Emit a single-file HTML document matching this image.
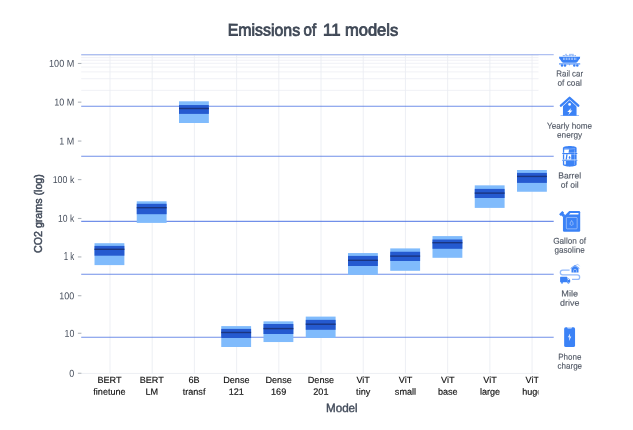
<!DOCTYPE html>
<html lang="en"><head><meta charset="utf-8"><title>Emissions of 11 models</title>
<style>
html,body{margin:0;padding:0;background:#fff;}
body{width:633px;height:430px;overflow:hidden;position:relative;font-family:"Liberation Sans", sans-serif;}
svg{position:absolute;left:0;top:0;display:block;}
text{font-family:"Liberation Sans", sans-serif;}
.yl{font-size:10px;fill:#454d5b;text-anchor:end;}
.xl{font-size:9.1px;fill:#111;stroke:#111;stroke-width:0.15px;text-anchor:middle;}
.il{font-size:8.6px;fill:#4f5663;stroke:#4f5663;stroke-width:0.12px;text-anchor:middle;}
.at{font-size:11.9px;fill:#434c5b;stroke:#434c5b;stroke-width:0.4px;text-anchor:middle;}
</style></head><body>
<svg width="633" height="430" viewBox="0 0 633 430">

<defs><clipPath id="gc"><rect x="0" y="0" width="538.5" height="430"/></clipPath></defs>
<g clip-path="url(#gc)">
<line x1="81.2" x2="543.5" y1="90.35" y2="90.35" stroke="#eaecf2" stroke-width="0.85" stroke-opacity="0.85"/>
<line x1="81.2" x2="543.5" y1="78.70" y2="78.70" stroke="#eaecf2" stroke-width="0.85" stroke-opacity="0.85"/>
<line x1="81.2" x2="543.5" y1="71.89" y2="71.89" stroke="#eaecf2" stroke-width="0.85" stroke-opacity="0.85"/>
<line x1="81.2" x2="543.5" y1="67.05" y2="67.05" stroke="#eaecf2" stroke-width="0.85" stroke-opacity="0.85"/>
<line x1="81.2" x2="543.5" y1="63.30" y2="63.30" stroke="#eaecf2" stroke-width="0.85" stroke-opacity="0.85"/>
<line x1="81.2" x2="543.5" y1="60.24" y2="60.24" stroke="#eaecf2" stroke-width="0.85" stroke-opacity="0.85"/>
<line x1="81.2" x2="543.5" y1="57.64" y2="57.64" stroke="#eaecf2" stroke-width="0.85" stroke-opacity="0.85"/>
<line x1="81.2" x2="543.5" y1="55.40" y2="55.40" stroke="#eaecf2" stroke-width="0.85" stroke-opacity="0.85"/>
<line x1="81.2" x2="543.5" y1="373.45" y2="373.45" stroke="#eaecf2" stroke-width="0.85"/>
<line x1="110.00" x2="110.00" y1="54.6" y2="373.6" stroke="#eaecf2" stroke-width="0.85"/>
<line x1="152.21" x2="152.21" y1="54.6" y2="373.6" stroke="#eaecf2" stroke-width="0.85"/>
<line x1="194.42" x2="194.42" y1="54.6" y2="373.6" stroke="#eaecf2" stroke-width="0.85"/>
<line x1="236.62" x2="236.62" y1="54.6" y2="373.6" stroke="#eaecf2" stroke-width="0.85"/>
<line x1="278.83" x2="278.83" y1="54.6" y2="373.6" stroke="#eaecf2" stroke-width="0.85"/>
<line x1="321.04" x2="321.04" y1="54.6" y2="373.6" stroke="#eaecf2" stroke-width="0.85"/>
<line x1="363.25" x2="363.25" y1="54.6" y2="373.6" stroke="#eaecf2" stroke-width="0.85"/>
<line x1="405.46" x2="405.46" y1="54.6" y2="373.6" stroke="#eaecf2" stroke-width="0.85"/>
<line x1="447.66" x2="447.66" y1="54.6" y2="373.6" stroke="#eaecf2" stroke-width="0.85"/>
<line x1="489.87" x2="489.87" y1="54.6" y2="373.6" stroke="#eaecf2" stroke-width="0.85"/>
<line x1="532.08" x2="532.08" y1="54.6" y2="373.6" stroke="#eaecf2" stroke-width="0.85"/>
<text class="xl" transform="translate(109.50,382.90) matrix(1,0.0006,0,1,0,0)">BERT</text>
<text class="xl" transform="translate(109.50,394.85) matrix(1,0.0006,0,1,0,0)">finetune</text>
<text class="xl" transform="translate(151.78,382.90) matrix(1,0.0006,0,1,0,0)">BERT</text>
<text class="xl" transform="translate(151.78,394.85) matrix(1,0.0006,0,1,0,0)">LM</text>
<text class="xl" transform="translate(194.06,382.90) matrix(1,0.0006,0,1,0,0)">6B</text>
<text class="xl" transform="translate(194.06,394.85) matrix(1,0.0006,0,1,0,0)">transf</text>
<text class="xl" transform="translate(236.34,382.90) matrix(1,0.0006,0,1,0,0)">Dense</text>
<text class="xl" transform="translate(236.34,394.85) matrix(1,0.0006,0,1,0,0)">121</text>
<text class="xl" transform="translate(278.62,382.90) matrix(1,0.0006,0,1,0,0)">Dense</text>
<text class="xl" transform="translate(278.62,394.85) matrix(1,0.0006,0,1,0,0)">169</text>
<text class="xl" transform="translate(320.90,382.90) matrix(1,0.0006,0,1,0,0)">Dense</text>
<text class="xl" transform="translate(320.90,394.85) matrix(1,0.0006,0,1,0,0)">201</text>
<text class="xl" transform="translate(363.18,382.90) matrix(1,0.0006,0,1,0,0)">ViT</text>
<text class="xl" transform="translate(363.18,394.85) matrix(1,0.0006,0,1,0,0)">tiny</text>
<text class="xl" transform="translate(405.46,382.90) matrix(1,0.0006,0,1,0,0)">ViT</text>
<text class="xl" transform="translate(405.46,394.85) matrix(1,0.0006,0,1,0,0)">small</text>
<text class="xl" transform="translate(447.74,382.90) matrix(1,0.0006,0,1,0,0)">ViT</text>
<text class="xl" transform="translate(447.74,394.85) matrix(1,0.0006,0,1,0,0)">base</text>
<text class="xl" transform="translate(490.02,382.90) matrix(1,0.0006,0,1,0,0)">ViT</text>
<text class="xl" transform="translate(490.02,394.85) matrix(1,0.0006,0,1,0,0)">large</text>
<text class="xl" transform="translate(532.30,382.90) matrix(1,0.0006,0,1,0,0)">ViT</text>
<text class="xl" transform="translate(532.30,394.85) matrix(1,0.0006,0,1,0,0)">huge</text>
</g>
<line x1="77.9" x2="81.4" y1="63.45" y2="63.45" stroke="#9aa0a8" stroke-width="0.85"/>
<text class="yl" transform="translate(74.30,66.85) matrix(1,0.0006,0,1,0,0)" textLength="25.30" lengthAdjust="spacingAndGlyphs">100 M</text>
<line x1="77.9" x2="81.4" y1="102.15" y2="102.15" stroke="#9aa0a8" stroke-width="0.85"/>
<text class="yl" transform="translate(74.30,105.55) matrix(1,0.0006,0,1,0,0)" textLength="20.10" lengthAdjust="spacingAndGlyphs">10 M</text>
<line x1="77.9" x2="81.4" y1="141.05" y2="141.05" stroke="#9aa0a8" stroke-width="0.85"/>
<text class="yl" transform="translate(74.30,144.45) matrix(1,0.0006,0,1,0,0)" textLength="15.00" lengthAdjust="spacingAndGlyphs">1 M</text>
<line x1="77.9" x2="81.4" y1="179.65" y2="179.65" stroke="#9aa0a8" stroke-width="0.85"/>
<text class="yl" transform="translate(74.30,183.05) matrix(1,0.0006,0,1,0,0)" textLength="21.60" lengthAdjust="spacingAndGlyphs">100 k</text>
<line x1="77.9" x2="81.4" y1="218.45" y2="218.45" stroke="#9aa0a8" stroke-width="0.85"/>
<text class="yl" transform="translate(74.30,221.85) matrix(1,0.0006,0,1,0,0)" textLength="16.30" lengthAdjust="spacingAndGlyphs">10 k</text>
<line x1="77.9" x2="81.4" y1="256.95" y2="256.95" stroke="#9aa0a8" stroke-width="0.85"/>
<text class="yl" transform="translate(74.30,260.35) matrix(1,0.0006,0,1,0,0)" textLength="10.50" lengthAdjust="spacingAndGlyphs">1 k</text>
<line x1="77.9" x2="81.4" y1="295.75" y2="295.75" stroke="#9aa0a8" stroke-width="0.85"/>
<text class="yl" transform="translate(74.30,299.15) matrix(1,0.0006,0,1,0,0)" textLength="15.00" lengthAdjust="spacingAndGlyphs">100</text>
<line x1="77.9" x2="81.4" y1="333.25" y2="333.25" stroke="#9aa0a8" stroke-width="0.85"/>
<text class="yl" transform="translate(74.30,336.65) matrix(1,0.0006,0,1,0,0)" textLength="9.80" lengthAdjust="spacingAndGlyphs">10</text>
<line x1="77.9" x2="81.4" y1="373.25" y2="373.25" stroke="#9aa0a8" stroke-width="0.85"/>
<text class="yl" transform="translate(74.30,376.65) matrix(1,0.0006,0,1,0,0)" textLength="5.00" lengthAdjust="spacingAndGlyphs">0</text>
<line x1="81.2" x2="553.7" y1="54.6" y2="54.6" stroke="#4169e1" stroke-opacity="0.42" stroke-width="1.1"/>
<line x1="81.2" x2="553.7" y1="106.3" y2="106.3" stroke="#4169e1" stroke-opacity="0.75" stroke-width="1.1"/>
<line x1="81.2" x2="553.7" y1="156.2" y2="156.2" stroke="#4169e1" stroke-opacity="0.75" stroke-width="1.1"/>
<line x1="81.2" x2="553.7" y1="221.4" y2="221.4" stroke="#4169e1" stroke-opacity="0.75" stroke-width="1.1"/>
<line x1="81.2" x2="553.7" y1="274.2" y2="274.2" stroke="#4169e1" stroke-opacity="0.75" stroke-width="1.1"/>
<line x1="81.2" x2="553.7" y1="337.2" y2="337.2" stroke="#4169e1" stroke-opacity="0.75" stroke-width="1.1"/>
<rect x="94.51" y="243.2" width="29.85" height="21.90" fill="#80bbfc"/>
<rect x="94.51" y="245.9" width="29.85" height="9.80" fill="#255ad0"/>
<rect x="94.51" y="248.60" width="29.85" height="1.4" fill="#1b3580"/>
<rect x="136.75" y="201.3" width="29.85" height="21.60" fill="#80bbfc"/>
<rect x="136.75" y="203.8" width="29.85" height="10.40" fill="#255ad0"/>
<rect x="136.75" y="207.00" width="29.85" height="1.4" fill="#1b3580"/>
<rect x="179.00" y="101.3" width="29.85" height="21.70" fill="#80bbfc"/>
<rect x="179.00" y="105.05" width="29.85" height="8.85" fill="#255ad0"/>
<rect x="179.00" y="107.80" width="29.85" height="1.4" fill="#1b3580"/>
<rect x="221.25" y="326.1" width="29.85" height="20.90" fill="#80bbfc"/>
<rect x="221.25" y="328.9" width="29.85" height="9.10" fill="#255ad0"/>
<rect x="221.25" y="331.80" width="29.85" height="1.4" fill="#1b3580"/>
<rect x="263.50" y="321.35" width="29.85" height="20.70" fill="#80bbfc"/>
<rect x="263.50" y="324.0" width="29.85" height="10.00" fill="#255ad0"/>
<rect x="263.50" y="327.90" width="29.85" height="1.4" fill="#1b3580"/>
<rect x="305.75" y="316.6" width="29.85" height="21.30" fill="#80bbfc"/>
<rect x="305.75" y="319.85" width="29.85" height="9.95" fill="#255ad0"/>
<rect x="305.75" y="323.50" width="29.85" height="1.4" fill="#1b3580"/>
<rect x="348.00" y="253.05" width="29.85" height="21.75" fill="#80bbfc"/>
<rect x="348.00" y="255.9" width="29.85" height="10.10" fill="#255ad0"/>
<rect x="348.00" y="259.60" width="29.85" height="1.4" fill="#1b3580"/>
<rect x="390.25" y="248.4" width="29.85" height="22.40" fill="#80bbfc"/>
<rect x="390.25" y="251.75" width="29.85" height="9.25" fill="#255ad0"/>
<rect x="390.25" y="255.40" width="29.85" height="1.4" fill="#1b3580"/>
<rect x="432.50" y="236.1" width="29.85" height="21.70" fill="#80bbfc"/>
<rect x="432.50" y="239.5" width="29.85" height="9.30" fill="#255ad0"/>
<rect x="432.50" y="242.00" width="29.85" height="1.4" fill="#1b3580"/>
<rect x="474.75" y="185.35" width="29.85" height="22.55" fill="#80bbfc"/>
<rect x="474.75" y="188.9" width="29.85" height="9.10" fill="#255ad0"/>
<rect x="474.75" y="192.40" width="29.85" height="1.4" fill="#1b3580"/>
<rect x="517.01" y="170.0" width="29.85" height="21.75" fill="#80bbfc"/>
<rect x="517.01" y="172.9" width="29.85" height="10.00" fill="#255ad0"/>
<rect x="517.01" y="175.70" width="29.85" height="1.4" fill="#1b3580"/>
<g font-size="16.7px" fill="#3f4856" stroke="#3f4856" stroke-width="0.8">
<text class="tt" transform="translate(227.70,35.60) matrix(1,0.0006,0,1,0,0)" textLength="72.40" lengthAdjust="spacingAndGlyphs">Emissions</text>
<text class="tt" transform="translate(303.60,35.60) matrix(1,0.0006,0,1,0,0)" textLength="12.60" lengthAdjust="spacingAndGlyphs">of</text>
<text class="tt" transform="translate(323.10,35.60) matrix(1,0.0006,0,1,0,0)" textLength="17.40" lengthAdjust="spacingAndGlyphs">11</text>
<text class="tt" transform="translate(344.90,35.60) matrix(1,0.0006,0,1,0,0)" textLength="53.40" lengthAdjust="spacingAndGlyphs">models</text>
</g>
<text class="at" transform="translate(341.80,412.00) matrix(1,0.0006,0,1,0,0)" textLength="31.80" lengthAdjust="spacingAndGlyphs">Model</text>
<text class="at" style="font-size:11.3px;stroke-width:0.5px" transform="translate(42.0,213.6) rotate(-90)" x="0" y="0" textLength="78.8" lengthAdjust="spacingAndGlyphs">CO2 grams (log)</text>
<text class="il" transform="translate(569.70,76.55) matrix(1,0.0006,0,1,0,0)" textLength="26.80" lengthAdjust="spacingAndGlyphs">Rail car</text>
<text class="il" transform="translate(569.70,85.70) matrix(1,0.0006,0,1,0,0)" textLength="24.40" lengthAdjust="spacingAndGlyphs">of coal</text>
<text class="il" transform="translate(569.60,128.65) matrix(1,0.0006,0,1,0,0)" textLength="45.00" lengthAdjust="spacingAndGlyphs">Yearly home</text>
<text class="il" transform="translate(569.60,137.75) matrix(1,0.0006,0,1,0,0)" textLength="25.20" lengthAdjust="spacingAndGlyphs">energy</text>
<text class="il" transform="translate(569.70,178.50) matrix(1,0.0006,0,1,0,0)" textLength="22.90" lengthAdjust="spacingAndGlyphs">Barrel</text>
<text class="il" transform="translate(569.70,187.65) matrix(1,0.0006,0,1,0,0)" textLength="18.10" lengthAdjust="spacingAndGlyphs">of oil</text>
<text class="il" transform="translate(569.60,243.65) matrix(1,0.0006,0,1,0,0)" textLength="32.90" lengthAdjust="spacingAndGlyphs">Gallon of</text>
<text class="il" transform="translate(569.60,252.80) matrix(1,0.0006,0,1,0,0)" textLength="30.30" lengthAdjust="spacingAndGlyphs">gasoline</text>
<text class="il" transform="translate(569.70,296.60) matrix(1,0.0006,0,1,0,0)" textLength="16.80" lengthAdjust="spacingAndGlyphs">Mile</text>
<text class="il" transform="translate(569.70,305.75) matrix(1,0.0006,0,1,0,0)" textLength="19.40" lengthAdjust="spacingAndGlyphs">drive</text>
<text class="il" transform="translate(569.80,359.80) matrix(1,0.0006,0,1,0,0)" textLength="23.25" lengthAdjust="spacingAndGlyphs">Phone</text>
<text class="il" transform="translate(569.80,368.80) matrix(1,0.0006,0,1,0,0)" textLength="24.60" lengthAdjust="spacingAndGlyphs">charge</text>
<g fill="#3b82f6">
<g opacity="0.75">
<rect x="565.1" y="53.9" width="1.80" height="0.7"/>
<rect x="569.0" y="53.9" width="4.80" height="0.7"/>
<rect x="562.80" y="55.1" width="1.0" height="1.1"/>
<rect x="564.30" y="55.1" width="1.0" height="1.1"/>
<rect x="565.80" y="55.1" width="1.0" height="1.1"/>
<rect x="567.30" y="55.1" width="1.0" height="1.1"/>
<rect x="568.80" y="55.1" width="1.0" height="1.1"/>
<rect x="570.30" y="55.1" width="1.0" height="1.1"/>
<rect x="571.80" y="55.1" width="1.0" height="1.1"/>
<rect x="573.30" y="55.1" width="1.0" height="1.1"/>
<rect x="574.80" y="55.1" width="1.0" height="1.1"/>
</g>
<path d="M559.0,56.8 H580.2 L579.9,58.2 L577.3,62.0 Q576.7,62.8 575.7,62.8 H563.5 Q562.5,62.8 561.9,62.0 L559.3,58.2 Z"/>
<rect x="559.0" y="63.4" width="21.2" height="1.05"/>
<circle cx="562.0" cy="65.55" r="1.25"/>
<circle cx="565.0" cy="65.55" r="1.25"/>
<circle cx="574.3" cy="65.55" r="1.25"/>
<circle cx="577.3" cy="65.55" r="1.25"/>
<path d="M568.8,64.4 H570.4 L569.6,65.6 Z"/>
</g>
<rect x="563.00" y="57.7" width="0.6" height="2.3" fill="#fff" opacity="0.8"/>
<rect x="564.58" y="57.7" width="0.6" height="2.3" fill="#fff" opacity="0.8"/>
<rect x="566.15" y="57.7" width="0.6" height="2.3" fill="#fff" opacity="0.8"/>
<rect x="567.73" y="57.7" width="0.6" height="2.3" fill="#fff" opacity="0.8"/>
<rect x="569.30" y="57.7" width="0.6" height="2.3" fill="#fff" opacity="0.8"/>
<rect x="570.88" y="57.7" width="0.6" height="2.3" fill="#fff" opacity="0.8"/>
<rect x="572.45" y="57.7" width="0.6" height="2.3" fill="#fff" opacity="0.8"/>
<rect x="574.02" y="57.7" width="0.6" height="2.3" fill="#fff" opacity="0.8"/>
<rect x="575.60" y="57.7" width="0.6" height="2.3" fill="#fff" opacity="0.8"/>
<g fill="#3b82f6">
<path d="M562.95,115.7 V105.2 L569.6,98.9 L576.55,105.2 V115.7 Z"/>
<path d="M560.9,105.7 L569.6,97.8 L578.3,105.7" fill="none" stroke="#fff" stroke-width="3.4" stroke-linejoin="round" stroke-linecap="round"/>
<path d="M560.9,105.7 L569.6,97.8 L578.3,105.7" fill="none" stroke="#3b82f6" stroke-width="2.3" stroke-linejoin="round" stroke-linecap="round"/>
<rect x="560.5" y="115.2" width="18.5" height="0.6" opacity="0.8"/>
</g>
<circle cx="569.6" cy="104.4" r="1.35" fill="#fff"/>
<path d="M571.2,107.9 L567.3,112.0 H569.5 L568.4,114.9 L572.4,110.5 H570.2 Z" fill="#fff"/>
<g fill="#3b82f6">
<path d="M562.9,148.0 C562.9,145.3 576.6,145.3 576.6,148.0 V164.6 C576.6,167.3 562.9,167.3 562.9,164.6 Z"/>
<rect x="562.1" y="152.75" width="15.4" height="1.5" rx="0.5" fill="#fff"/>
<rect x="562.1" y="159.55" width="15.4" height="1.5" rx="0.5" fill="#fff"/>
<rect x="562.1" y="153.0" width="15.4" height="0.95" rx="0.45"/>
<rect x="562.1" y="159.8" width="15.4" height="0.95" rx="0.45"/>
</g>
<g fill="#fff">
<path d="M564.2,149.5 H569.0 L568.5,152.9 H564.2 Z"/>
<path d="M564.2,154.3 H566.3 L565.6,159.5 H564.2 Z"/>
<path d="M567.6,154.3 H571.2 V159.5 H566.9 Z"/>
<path d="M564.2,161.1 H565.8 V164.6 H564.2 Z"/>
<rect x="574.2" y="149.6" width="0.5" height="15.4" opacity="0.5"/>
<path d="M564.3,148.6 Q569.7,149.6 575.2,148.6" fill="none" stroke="#fff" stroke-width="0.45" opacity="0.7"/>
</g>
<path d="M569.6,155.8 Q571.0,157.6 570.4,158.4 Q569.6,159.1 568.8,158.4 Q568.2,157.6 569.6,155.8 Z" fill="#3b82f6"/>
<g fill="#3b82f6">
<path d="M569.3,211.0 H579.0 Q580.2,211.0 580.2,212.2 V230.5 Q580.2,231.7 579.0,231.7 H564.15 Q562.95,231.7 562.95,230.5 V217.3 Z"/>
<rect x="-2.35" y="-1.3" width="4.7" height="2.6" rx="0.4" transform="translate(561.6,213.55) rotate(-45)"/>
<rect x="-1.5" y="0" width="3.0" height="3.8" transform="translate(561.6,213.55) rotate(-45)"/>
</g>
<path d="M570.4,213.1 H578.0 Q578.7,213.1 578.7,213.8 Q578.7,214.5 578.0,214.5 H569.0 Z" fill="#fff"/>
<rect x="566.35" y="217.45" width="10.8" height="11.4" rx="0.8" fill="none" stroke="#fff" stroke-width="0.55" opacity="0.75"/>
<path d="M571.6,220.5 Q573.6,223.2 573.1,224.3 Q572.6,225.3 571.6,225.3 Q570.6,225.3 570.1,224.3 Q569.6,223.2 571.6,220.5 Z" fill="none" stroke="#fff" stroke-width="0.5" opacity="0.8"/>
<path d="M569.6,270.1 H562.7 A2.4,2.4 0 0 0 562.7,274.9 H577.4 A2.25,2.25 0 0 1 577.4,279.4 H572.0" fill="none" stroke="#3b82f6" stroke-width="1.25" opacity="0.55"/>
<g fill="#3b82f6">
<rect x="560.1" y="276.8" width="7.1" height="5.4" rx="0.4"/>
<path d="M567.2,278.5 H569.0 L570.2,280.0 V282.2 H567.2 Z"/>
<circle cx="562.0" cy="282.6" r="1.15"/><circle cx="568.4" cy="282.6" r="1.15"/>
<path d="M571.5,272.6 V268.3 L575.0,266.0 L578.5,268.3 V272.6 Z"/>
<path d="M570.7,268.4 L575.1,265.2 L579.4,268.4" fill="none" stroke="#3b82f6" stroke-width="0.9" opacity="0.8"/>
<path d="M575.9,265.2 L577.9,264.2 L579.6,266.3" fill="none" stroke="#3b82f6" stroke-width="0.7" opacity="0.5"/>
</g>
<circle cx="562.0" cy="282.6" r="0.4" fill="#fff"/><circle cx="568.4" cy="282.6" r="0.4" fill="#fff"/>
<rect x="567.9" y="279.0" width="1.2" height="1.0" fill="#fff" opacity="0.8"/>
<path d="M573.6,272.6 V270.3 Q573.6,269.3 575.0,269.3 Q576.4,269.3 576.4,270.3 V272.6" fill="none" stroke="#fff" stroke-width="0.55" opacity="0.85"/>
<rect x="564.15" y="327.3" width="10.9" height="19.7" rx="1.6" fill="#3b82f6"/>
<path d="M567.0,327.2 H572.2 Q572.0,328.55 570.9,328.55 H568.3 Q567.2,328.55 567.0,327.2 Z" fill="#fff" opacity="0.85"/>
<path d="M570.1,333.6 L567.9,337.3 H569.4 L569.0,340.9 L571.3,336.6 H569.8 Z" fill="#fff" opacity="0.9"/>
</svg></body></html>
